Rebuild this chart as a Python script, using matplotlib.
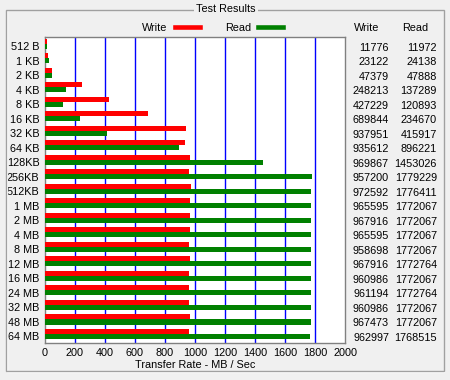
import matplotlib.pyplot as plt
from matplotlib.patches import Rectangle
from matplotlib.lines import Line2D

sizes = ["512 B", "1 KB", "2 KB", "4 KB", "8 KB", "16 KB", "32 KB", "64 KB",
         "128KB", "256KB", "512KB", "1 MB", "2 MB", "4 MB", "8 MB", "12 MB",
         "16 MB", "24 MB", "32 MB", "48 MB", "64 MB"]
write_kb = [11776, 23122, 47379, 248213, 427229, 689844, 937951, 935612,
            969867, 957200, 972592, 965595, 967916, 965595, 958698, 967916,
            960986, 961194, 960986, 967473, 962997]
read_kb = [11972, 24138, 47888, 137289, 120893, 234670, 415917, 896221,
           1453026, 1779229, 1776411, 1772067, 1772067, 1772067, 1772067,
           1772764, 1772067, 1772764, 1772067, 1772067, 1768515]

bg = "#f0f0f0"
fs = 7.8
plt.rcParams['font.family'] = ['Liberation Sans', 'DejaVu Sans']
plt.rcParams['font.size'] = fs

fig = plt.figure(figsize=(4.5, 3.8), dpi=100, facecolor=bg)
W, H = 450.0, 380.0

def fx(px):
    return px / W

def fy(py):
    return 1 - py / H

# group box
fig.patches.append(Rectangle((fx(7.3), fy(372)), fx(437), 362.3 / H,
                             transform=fig.transFigure, fill=False,
                             edgecolor="white", lw=1))
fig.patches.append(Rectangle((fx(6.3), fy(371)), fx(437.5), 361.3 / H,
                             transform=fig.transFigure, fill=False,
                             edgecolor="#a0a0a0", lw=1))
fig.text(fx(226), fy(9.5), "Test Results", ha="center", va="center",
         fontsize=fs, color="black",
         bbox=dict(facecolor=bg, edgecolor="none", pad=1.5))

ax = fig.add_axes([fx(45), fy(342.7), 300 / W, 305.4 / H])
ax.set_facecolor("white")

ypos = list(range(len(sizes)))
bh = 0.345
write_mb = [v / 1000 for v in write_kb]
read_mb = [v / 1000 for v in read_kb]
ax.barh([y - bh / 2 for y in ypos], write_mb, height=bh, color="#ff0000", zorder=3)
ax.barh([y + bh / 2 for y in ypos], read_mb, height=bh, color="#008000", zorder=3)

ax.set_xlim(0, 2000)
ax.set_ylim(20.6, -0.46)
ax.set_xticks(range(0, 2001, 200))
for x in range(200, 2000, 200):
    ax.axvline(x, color="#0000ff", lw=1, zorder=2)
ax.tick_params(length=0, labelsize=fs, pad=4)
ax.set_yticks([y + 0.17 for y in ypos])
ax.set_yticklabels(sizes)
ax.set_xlabel("Transfer Rate - MB / Sec", fontsize=fs, labelpad=1)
for s in ax.spines.values():
    s.set_color("#808080")
    s.set_linewidth(1)

# legend
fig.text(fx(155), fy(27.7), "Write", ha="center", va="center", fontsize=fs)
fig.lines.append(Line2D([fx(175), fx(200)], [fy(27.3), fy(27.3)],
                        transform=fig.transFigure, color="#ff0000", lw=3.3))
fig.text(fx(238.5), fy(27.7), "Read", ha="center", va="center", fontsize=fs)
fig.lines.append(Line2D([fx(258), fx(283)], [fy(27.3), fy(27.3)],
                        transform=fig.transFigure, color="#008000", lw=3.3))

# value columns
fig.text(fx(366.5), fy(27.7), "Write", ha="center", va="center", fontsize=fs)
fig.text(fx(415), fy(27.7), "Read", ha="center", va="center", fontsize=fs)
for i in ypos:
    ty = ax.transData.transform((0, i + 0.25))[1] / fig.dpi / 3.8
    fig.text(fx(389), ty, str(write_kb[i]), ha="right", va="center", fontsize=fs)
    fig.text(fx(437), ty, str(read_kb[i]), ha="right", va="center", fontsize=fs)

fig.savefig("out.png", dpi=100, facecolor=bg)
